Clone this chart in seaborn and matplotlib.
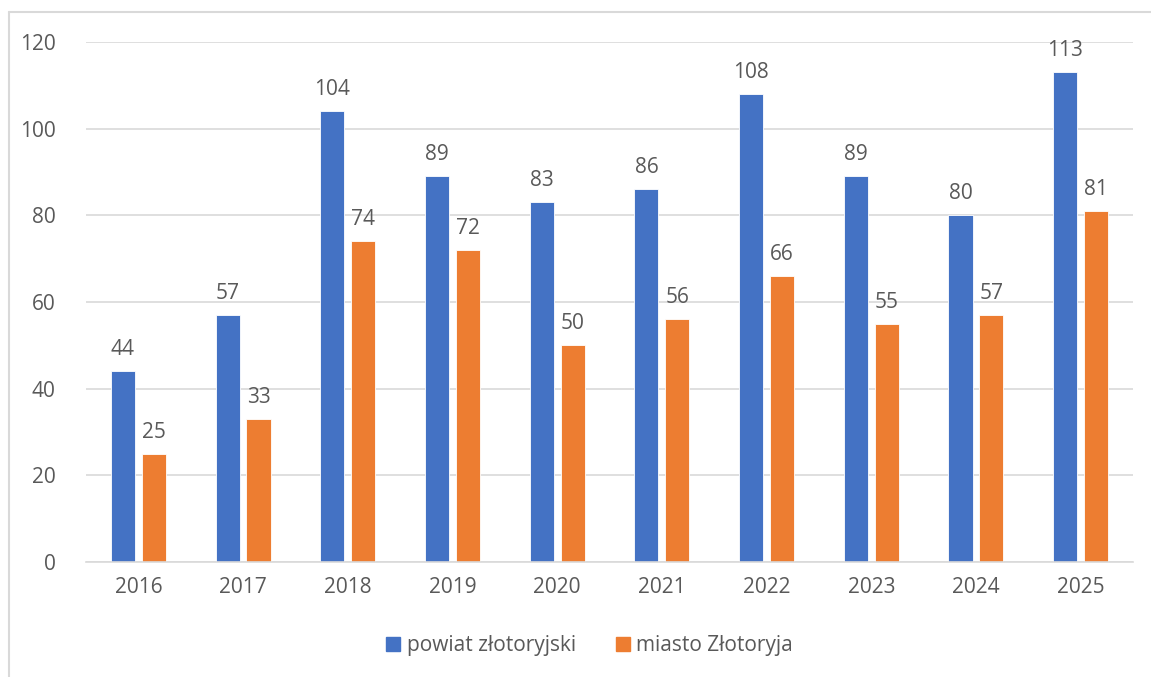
"""Grouped bar chart: powiat vs miasto, 2016-2025."""

import matplotlib.pyplot as plt
import pandas as pd
import seaborn as sns
from matplotlib.lines import Line2D

years = ["2016", "2017", "2018", "2019", "2020", "2021", "2022", "2023", "2024", "2025"]
powiat = [44, 57, 104, 89, 83, 86, 108, 89, 80, 113]
miasto = [25, 33, 74, 72, 50, 56, 66, 55, 57, 81]
series_names = ["powiat złotoryjski", "miasto Złotoryja"]
colors = ["#4472C4", "#ED7D31"]

df = pd.DataFrame({
    "rok": years * 2,
    "wartosc": powiat + miasto,
    "seria": [series_names[0]] * len(years) + [series_names[1]] * len(years),
})

sns.set_style("white")
plt.rcParams["font.family"] = ["Open Sans", "DejaVu Sans"]
text_color = "#595959"
grid_color = "#D9D9D9"
fs = 15

fig = plt.figure(figsize=(11.51, 6.77), dpi=100)
ax = fig.add_axes([0.0747, 0.1699, 0.9097, 0.7681])

sns.barplot(
    data=df, x="rok", y="wartosc", hue="seria", palette=colors,
    width=0.59, gap=0.22, ax=ax, legend=False, saturation=1,
    edgecolor="white", linewidth=0.6,
)

for container in ax.containers:
    ax.bar_label(container, padding=8, fontsize=fs, color=text_color)

ax.set_ylim(0, 120)
ax.set_yticks(range(0, 121, 20))
ax.set_xlim(-0.5, len(years) - 0.5)
ax.yaxis.grid(True, color=grid_color, linewidth=1.2)
ax.set_axisbelow(True)
for side in ["top", "right", "left"]:
    ax.spines[side].set_visible(False)
ax.spines["bottom"].set_color(grid_color)
ax.spines["bottom"].set_linewidth(1.2)
ax.tick_params(axis="both", length=0, labelsize=fs, labelcolor=text_color)
ax.tick_params(axis="y", pad=22)
ax.tick_params(axis="x", pad=11)
ax.set_xlabel("")
ax.set_ylabel("")

handles = [
    Line2D([], [], marker="s", linestyle="", markersize=10, color=c)
    for c in colors
]
fig.legend(
    handles, series_names, loc="center", bbox_to_anchor=(0.512, 0.046),
    ncol=2, frameon=False, fontsize=fs, labelcolor=text_color,
    handlelength=0.7, handletextpad=0.3, columnspacing=1.9,
)

# chart frame (left and top edges visible)
fig.add_artist(Line2D([9 / 1151, 9 / 1151], [0, 1 - 12 / 677],
                      color=grid_color, linewidth=1.5, transform=fig.transFigure))
fig.add_artist(Line2D([9 / 1151, 1], [1 - 12 / 677, 1 - 12 / 677],
                      color=grid_color, linewidth=1.5, transform=fig.transFigure))

fig.savefig("out.png", dpi=100)
plt.close(fig)
